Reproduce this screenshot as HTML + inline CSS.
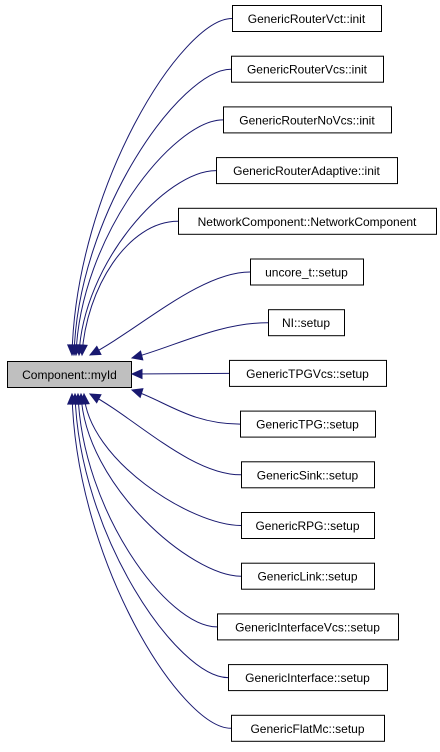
<!DOCTYPE html>
<html><head><meta charset="utf-8"><style>
body{margin:0;background:#fff;width:440px;height:747px;overflow:hidden}
svg text{font-family:"Liberation Sans",sans-serif;font-size:12px}
</style></head><body>
<svg id="s" width="440" height="747" viewBox="0 0 440 747" xmlns="http://www.w3.org/2000/svg">
<rect x="7.5" y="361.5" width="124" height="26" fill="#bfbfbf" stroke="#000"/>
<text x="69.5" y="379" text-anchor="middle">Component::myId</text>
</svg>
<script>
var n=[["GenericRouterVct::init",232,381,72,355],["GenericRouterVcs::init",231,383,74,355],["GenericRouterNoVcs::init",223,391,76,355],["GenericRouterAdaptive::init",216,397,79,355],["NetworkComponent::NetworkComponent",178,436,82,355],["uncore_t::setup",250,363,90,355],["NI::setup",268,344,132,358],["GenericTPGVcs::setup",229,386,132,374],["GenericTPG::setup",240,375,132,390],["GenericSink::setup",241,374,90,394],["GenericRPG::setup",241,374,84,394],["GenericLink::setup",241,374,81,394],["GenericInterfaceVcs::setup",217,398,78,394],["GenericInterface::setup",228,387,75,394],["GenericFlatMc::setup",231,384,72,394]];
var s=document.getElementById('s'),h='';
n.forEach(function(d,i){var cy=18.5+i*50.7,t=cy-13,L=d[1],R=d[2],tx=d[3],ty=d[4];
h+='<rect x="'+(L+.5)+'" y="'+t.toFixed(1)+'" width="'+(R-L)+'" height="26" fill="#fff" stroke="#000"/>';
h+='<text x="'+((L+R)/2)+'" y="'+(cy+4.5).toFixed(1)+'" text-anchor="middle">'+d[0]+'</text>';
var p,ang;
if(i==7){p='M'+L+','+cy+' L'+tx+','+ty;ang=Math.PI;}
else{var dy=ty-cy,far=Math.abs(dy)>120;
var c2x=far?tx+ (i<7?4:4)*1:tx+30, c2y=far?ty-dy*0.5:ty-dy*0.3;
if(!far){c2x=tx+(L-tx)*0.3;}
p='M'+L+','+cy+' C'+(L-50)+','+cy+' '+c2x+','+c2y+' '+tx+','+ty;
ang=Math.atan2(ty-c2y,tx-c2x);}
h+='<path d="'+p+'" fill="none" stroke="#191970" stroke-width="1"/>';
var a=10,w=4.5,ca=Math.cos(ang),sa=Math.sin(ang),bx=tx-a*ca,by=ty-a*sa;
h+='<polygon points="'+tx+','+ty+' '+(bx-w*sa)+','+(by+w*ca)+' '+(bx+w*sa)+','+(by-w*ca)+'" fill="#191970" stroke="#191970"/>';
});
s.insertAdjacentHTML('beforeend',h);
</script>
</body></html>
